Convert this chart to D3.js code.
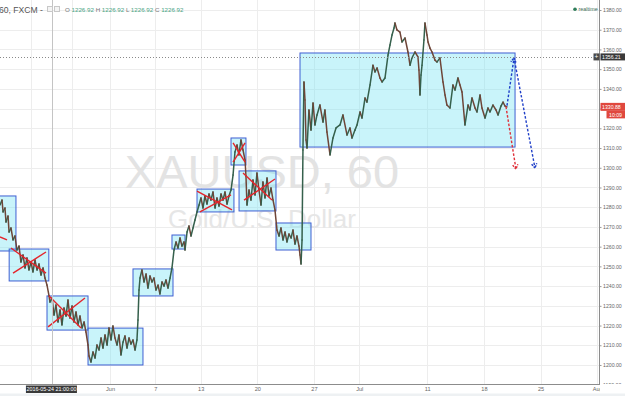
<!DOCTYPE html>
<html>
<head>
<meta charset="utf-8">
<script src="https://cdn.jsdelivr.net/npm/d3@7"></script>
<style>
  body { margin: 0; background: #fff; overflow: hidden; }
  svg { display: block; font-family: "Liberation Sans", Arial, sans-serif; }
</style>
</head>
<body>
<div id="root"></div>
<script>
const width = 625;
const height = 396;
const plotRight = 599;
const plotBottom = 384;

// x is a trading-day index, Jun 1 2016 = 0 (weekends skipped)
// the two May ticks sit under the crosshair label, so they carry no text
const tickDays = [-7, -3.35, 0, 4, 8, 13, 18, 22, 28, 33, 38, 43];
const tickLabels = ["", "", "Jun", "7", "13", "20", "27", "Jul", "11", "18", "25", "Aug"];
const priceTicks = [1190, 1200, 1210, 1220, 1230, 1240, 1250, 1260, 1270, 1280,
  1290, 1300, 1310, 1320, 1330, 1340, 1350, 1360, 1370, 1380];

// XAUUSD 60 min path
const priceDays = [
  -9.71, -9.53, -9.44, -9.27, -9.18, -9.00, -8.91, -8.74, -8.56, -8.39, -8.21,
  -8.03, -7.86, -7.68, -7.50, -7.33, -7.15, -6.97, -6.80, -6.62, -6.44, -6.27, -6.09, -5.91, -5.74, -5.56, -5.38,
  -5.30, -5.12, -4.94, -4.77, -4.59, -4.41, -4.24, -4.06, -3.88, -3.71, -3.53, -3.35, -3.18, -3.00, -2.82, -2.65, -2.47, -2.29, -2.12, -1.94, -1.85, -1.68,
  -1.50, -1.32, -1.15, -0.97, -0.79, -0.62, -0.44, -0.26, -0.09, 0.09, 0.26, 0.44, 0.62, 0.79, 0.97, 1.15, 1.32, 1.50, 1.68, 1.85, 2.03, 2.21, 2.38, 2.47, 2.56, 2.65,
  2.82, 3.00, 3.18, 3.35, 3.53, 3.71, 3.88, 4.06, 4.24, 4.41, 4.59, 4.77, 4.94, 5.12, 5.30, 5.47,
  5.65, 5.83, 6.00, 6.18, 6.35, 6.53, 6.62, 6.80, 6.97, 7.15, 7.33, 7.50, 7.68,
  7.86, 8.03, 8.21, 8.38, 8.56, 8.74, 8.91, 9.09, 9.27, 9.44, 9.62, 9.80, 9.97, 10.15, 10.33, 10.50, 10.68, 10.86, 11.03,
  11.21, 11.38, 11.56, 11.74, 11.92,
  12.00, 12.09, 12.27, 12.44, 12.62, 12.80, 12.97, 13.15, 13.33, 13.50, 13.68, 13.86, 14.03, 14.21, 14.39, 14.56,
  14.74, 14.92, 15.09, 15.27, 15.45, 15.62, 15.80, 15.98, 16.15, 16.33, 16.50, 16.68, 16.77, 16.86, 16.95, 17.03, 17.12,
  17.21, 17.30, 17.39, 17.56, 17.74, 17.92, 18.09, 18.27, 18.53, 18.80, 18.97, 19.15, 19.42, 19.68, 19.95, 20.30, 20.56, 20.92,
  21.18, 21.36, 21.62, 21.80, 22.07, 22.24, 22.51, 22.68, 22.95, 23.21, 23.39, 23.57, 23.83, 24.01, 24.27, 24.54, 24.71, 24.89,
  25.07, 25.15, 25.33, 25.59, 25.77, 26.04, 26.30, 26.48, 26.65, 26.92, 27.18, 27.27, 27.36, 27.45, 27.54, 27.71, 27.80, 27.98,
  28.07, 28.24, 28.42, 28.68, 28.86, 29.12, 29.39, 29.57, 29.74, 30.01, 30.27, 30.45, 30.71, 30.89, 31.07, 31.33, 31.60, 31.77,
  31.95, 32.22, 32.39, 32.66, 32.83, 33.10, 33.36, 33.54, 33.80, 34.07, 34.25, 34.51, 34.69, 34.86, 35.04
];
const priceValues = [
  1281.1, 1283.6, 1277.6, 1279.6, 1272.5, 1275.5, 1267.4, 1269.5, 1263.4, 1265.4, 1258.3,
  1260.3, 1252.2, 1255.8, 1249.2, 1254.2, 1248.2, 1252.2, 1247.2, 1253.2, 1248.2, 1251.2, 1245.6, 1249.2, 1244.1, 1240.5, 1235.0,
  1231.9, 1234.0, 1225.3, 1230.4, 1221.8, 1227.9, 1220.3, 1228.9, 1224.8, 1232.9, 1223.8, 1229.9, 1221.8, 1226.9, 1220.3, 1224.8, 1218.8, 1221.8, 1216.7, 1210.1, 1204.6, 1201.5,
  1206.6, 1203.5, 1210.1, 1207.6, 1213.7, 1208.6, 1215.2, 1210.1, 1218.8, 1212.7, 1219.8, 1213.7, 1210.1, 1215.2, 1205.1, 1211.6, 1214.7, 1208.6, 1213.7, 1210.6, 1212.7, 1207.6, 1212.7, 1222.8, 1238.0, 1244.1,
  1248.2, 1242.1, 1246.1, 1239.0, 1245.1, 1242.1, 1244.1, 1238.0, 1240.5, 1236.0, 1242.1, 1240.0, 1243.1, 1239.0, 1244.1, 1249.2,
  1258.3, 1262.4, 1259.3, 1264.4, 1260.3, 1262.4, 1258.3, 1267.4, 1270.5, 1265.4, 1269.5, 1273.5, 1277.6,
  1281.1, 1284.7, 1279.6, 1285.7, 1281.6, 1286.7, 1283.6, 1287.7, 1279.6, 1284.7, 1280.6, 1286.7, 1283.6, 1287.7, 1281.6, 1285.7, 1288.7, 1296.3, 1308.0,
  1311.5, 1306.5, 1314.1, 1309.0, 1303.9,
  1295.8, 1281.1, 1288.7, 1283.6, 1293.8, 1286.2, 1297.3, 1288.7, 1281.1, 1292.8, 1284.7, 1294.8, 1285.7, 1289.7, 1283.6, 1278.6,
  1268.4, 1265.4, 1269.5, 1263.4, 1267.4, 1262.4, 1266.4, 1264.4, 1268.4, 1261.3, 1265.4, 1260.3, 1255.8, 1251.2, 1263.4, 1309.0, 1343.5,
  1334.4, 1314.1, 1310.0, 1329.3, 1319.1, 1332.8, 1321.7, 1326.8, 1331.8, 1323.2, 1329.3, 1318.1, 1306.5, 1315.1, 1320.2, 1321.7, 1326.8, 1316.6,
  1320.2, 1315.1, 1319.1, 1321.7, 1328.3, 1325.2, 1335.4, 1333.3, 1342.0, 1352.0, 1348.6, 1350.6, 1345.5, 1343.5, 1345.5, 1357.2, 1362.2, 1367.3,
  1370.9, 1373.4, 1369.9, 1368.8, 1363.8, 1365.8, 1358.7, 1352.0, 1355.7, 1358.7, 1356.2, 1349.6, 1336.9, 1347.0, 1352.0, 1364.8, 1373.4, 1367.3,
  1363.8, 1360.7, 1358.7, 1354.6, 1353.6, 1355.7, 1343.5, 1336.9, 1331.8, 1330.3, 1342.0, 1339.4, 1345.5, 1342.0, 1338.4, 1321.7, 1331.8, 1329.3,
  1335.4, 1330.3, 1328.3, 1336.9, 1330.3, 1325.2, 1330.3, 1328.3, 1331.8, 1329.3, 1326.8, 1331.3, 1333.3, 1331.3, 1330.9
];

// rectangles: [startDay, endDay, topPrice, bottomPrice]
const boxes = [
  [-10.5, -8.3, 1285.7, 1257.8],
  [-8.9, -5.4, 1258.8, 1242.6],
  [-5.56, -1.94, 1235.0, 1217.7],
  [-1.94, 2.91, 1218.7, 1200.0],
  [2.03, 5.56, 1248.7, 1235.0],
  [5.47, 6.62, 1265.9, 1258.8],
  [7.68, 10.94, 1289.2, 1277.6],
  [10.68, 12.0, 1315.1, 1301.4],
  [11.39, 14.65, 1298.4, 1278.1],
  [14.65, 17.74, 1272.0, 1258.3],
  [16.77, 35.75, 1358.2, 1310.5]
];

// red crosses: [day1, price1, day2, price2]
const crossLines = [
  [-9.71, 1264.9, -9.09, 1263.4],
  [-8.74, 1259.3, -5.65, 1246.6],
  [-8.56, 1246.6, -5.65, 1257.3],
  [-5.38, 1235.0, -2.56, 1218.8],
  [-5.47, 1219.3, -2.21, 1234.0],
  [7.68, 1288.2, 10.77, 1278.6],
  [7.94, 1277.6, 10.68, 1286.2],
  [10.86, 1312.6, 11.92, 1302.9],
  [10.86, 1302.9, 11.92, 1312.6],
  [11.74, 1297.3, 14.30, 1283.6],
  [11.83, 1283.6, 14.56, 1294.3]
];

const blueArrow = [[35.04, 1331.5], [35.66, 1355.7], [37.51, 1299.9]];
const redArrow = [[34.95, 1331.0], [35.83, 1299.4]];

const lastPrice = 1330.88;
const markPrice = 1356.21;
const crossDay = -5.125;

var svg = d3.select("#root").append("svg")
  .attr("width", width)
  .attr("height", height);

var x = d3.scaleLinear().domain([-9.709, 43.16]).range([0, plotRight]);
var y = d3.scaleLinear().domain([1190, 1380]).range([384.7, 10]);

svg.append("defs").append("clipPath").attr("id", "plot")
  .append("rect").attr("width", plotRight).attr("height", plotBottom);

svg.append("rect").attr("width", width).attr("height", height).attr("fill", "#fff");

// grid
var grid = svg.append("g").attr("stroke", "#ededed").attr("stroke-width", 1);
grid.selectAll(".h").data(priceTicks).enter().append("line")
  .attr("x1", 0).attr("x2", plotRight)
  .attr("y1", d => Math.round(y(d)) + 0.5).attr("y2", d => Math.round(y(d)) + 0.5);
grid.selectAll(".v").data(tickDays).enter().append("line")
  .attr("y1", 0).attr("y2", plotBottom)
  .attr("x1", d => Math.round(x(d)) + 0.5).attr("x2", d => Math.round(x(d)) + 0.5);

// watermark
svg.append("text").attr("x", 262).attr("y", 188).attr("text-anchor", "middle")
  .attr("font-size", 47).attr("fill", "#e3e3e3").text("XAUUSD, 60");
svg.append("text").attr("x", 262).attr("y", 228).attr("text-anchor", "middle")
  .attr("font-size", 26).attr("fill", "#e6e6e6").text("Gold/U.S. Dollar");

var plot = svg.append("g").attr("clip-path", "url(#plot)");

plot.selectAll(".box").data(boxes).enter().append("rect")
  .attr("x", d => x(d[0]))
  .attr("y", d => y(d[2]))
  .attr("width", d => x(d[1]) - x(d[0]))
  .attr("height", d => y(d[3]) - y(d[2]))
  .attr("fill", "rgba(120,228,242,0.4)")
  .attr("stroke", "#3f5fd2")
  .attr("stroke-width", 1);

// price path, coloured by direction
var pts = priceDays.map((d, i) => [d, priceValues[i]]);
plot.selectAll(".seg").data(d3.pairs(pts)).enter().append("line")
  .attr("x1", d => x(d[0][0])).attr("y1", d => y(d[0][1]))
  .attr("x2", d => x(d[1][0])).attr("y2", d => y(d[1][1]))
  .attr("stroke", d => d[1][1] >= d[0][1] ? "#35604c" : "#6e4538")
  .attr("stroke-width", 1.5)
  .attr("stroke-linecap", "round");

plot.selectAll(".cross").data(crossLines).enter().append("line")
  .attr("x1", d => x(d[0])).attr("y1", d => y(d[1]))
  .attr("x2", d => x(d[2])).attr("y2", d => y(d[3]))
  .attr("stroke", "#e5242b").attr("stroke-width", 1.4);

var line = d3.line().x(d => x(d[0])).y(d => y(d[1]));

function arrowHead(p0, p1, color) {
  var x0 = x(p0[0]), y0 = y(p0[1]), x1 = x(p1[0]), y1 = y(p1[1]);
  var a = Math.atan2(y1 - y0, x1 - x0), L = 5, s = 0.55;
  plot.append("path")
    .attr("d", "M" + (x1 - L * Math.cos(a - s)) + "," + (y1 - L * Math.sin(a - s)) +
      "L" + x1 + "," + y1 +
      "L" + (x1 - L * Math.cos(a + s)) + "," + (y1 - L * Math.sin(a + s)))
    .attr("fill", "none").attr("stroke", color).attr("stroke-width", 1.4)
    .attr("stroke-dasharray", "2,1");
}

plot.append("path").attr("d", line(blueArrow))
  .attr("fill", "none").attr("stroke", "#1f3fc8").attr("stroke-width", 1.4)
  .attr("stroke-dasharray", "2.5,1.8");
arrowHead(blueArrow[0], blueArrow[1], "#1f3fc8");
arrowHead(blueArrow[1], blueArrow[2], "#1f3fc8");

plot.append("path").attr("d", line(redArrow))
  .attr("fill", "none").attr("stroke", "#e0303a").attr("stroke-width", 1.4)
  .attr("stroke-dasharray", "2.5,1.8");
arrowHead(redArrow[0], redArrow[1], "#e0303a");

// dotted level line
plot.append("line")
  .attr("x1", 0).attr("x2", plotRight)
  .attr("y1", Math.round(y(markPrice)) + 0.5).attr("y2", Math.round(y(markPrice)) + 0.5)
  .attr("stroke", "#8a8a8a").attr("stroke-dasharray", "1,2");

// crosshair
plot.append("line")
  .attr("x1", Math.round(x(crossDay)) + 0.5).attr("x2", Math.round(x(crossDay)) + 0.5)
  .attr("y1", 0).attr("y2", plotBottom)
  .attr("stroke", "#c4c4c4");

// header
svg.append("text").attr("x", -1).attr("y", 12.5)
  .attr("font-size", 8.6).attr("fill", "#555").text("60, FXCM -");
[47, 54].forEach(function(px) {
  svg.append("rect").attr("x", px + 0.5).attr("y", 6.5).attr("width", 5).attr("height", 5)
    .attr("fill", "#f4f4f4").attr("stroke", "#c8c8c8");
});
var ohlc = svg.append("text").attr("x", 65).attr("y", 11.5).attr("font-size", 6.2);
["O", "H", "L", "C"].forEach(function(k) {
  ohlc.append("tspan").attr("fill", "#777").text(k + " ");
  ohlc.append("tspan").attr("fill", "#4aa484").text("1226.92 ");
});
svg.append("circle").attr("cx", 575).attr("cy", 9.3).attr("r", 1.8).attr("fill", "#2e7d5a");
svg.append("text").attr("x", 578.5).attr("y", 11.2).attr("font-size", 5.4)
  .attr("fill", "#3d6e58").text("realtime");

// price axis panel
svg.append("rect").attr("x", plotRight + 0.5).attr("y", 0)
  .attr("width", width - plotRight).attr("height", plotBottom).attr("fill", "#fff");
var yl = y(lastPrice);
var yAxis = svg.append("g")
  .attr("transform", "translate(" + (plotRight + 0.5) + ",0)")
  .call(d3.axisRight(y).tickValues(priceTicks).tickFormat(d3.format(".2f")).tickSize(2).tickPadding(1.5));
yAxis.select(".domain").remove();
yAxis.selectAll("line").attr("stroke", "#999");
yAxis.selectAll("text").attr("font-size", 5.2).attr("fill", "#666")
  .attr("font-family", "'Liberation Sans', Arial, sans-serif");
// labels hidden behind the last-price tag
yAxis.selectAll(".tick").filter(d => Math.abs(y(d) - yl) < 9).select("text").remove();

svg.append("line")
  .attr("x1", plotRight + 0.5).attr("x2", plotRight + 0.5).attr("y1", 0).attr("y2", plotBottom)
  .attr("stroke", "#8c8c8c");

// mark price label
var ym = y(markPrice);
svg.append("rect").attr("x", 593.5).attr("y", ym - 3.5).attr("width", 6).attr("height", 7).attr("fill", "#4a4a4a");
svg.append("text").attr("x", 596.5).attr("y", ym + 2.2).attr("text-anchor", "middle")
  .attr("font-size", 6.5).attr("fill", "#fff").text("+");
svg.append("rect").attr("x", 600.5).attr("y", ym - 3.5).attr("width", 25).attr("height", 7).attr("fill", "#3a3a3a");
svg.append("text").attr("x", 602).attr("y", ym + 1.9).attr("font-size", 5.2).attr("fill", "#fff")
  .text(d3.format(".2f")(markPrice));

// last price label + countdown
svg.append("rect").attr("x", 600.5).attr("y", yl - 4).attr("width", 25).attr("height", 8).attr("fill", "#e0483e");
svg.append("text").attr("x", 602).attr("y", yl + 1.9).attr("font-size", 5.2).attr("fill", "#fff")
  .text(d3.format(".2f")(lastPrice));
svg.append("rect").attr("x", 606.5).attr("y", yl + 4).attr("width", 19).attr("height", 7.5).attr("fill", "#e0483e");
svg.append("text").attr("x", 609).attr("y", yl + 9.7).attr("font-size", 5.2).attr("fill", "#fff").text("10:09");

// time axis
svg.append("rect").attr("x", 0).attr("y", plotBottom).attr("width", width).attr("height", height - plotBottom).attr("fill", "#fff");
var xAxis = svg.append("g")
  .attr("transform", "translate(0," + plotBottom + ")")
  .call(d3.axisBottom(x).tickValues(tickDays).tickFormat((d, i) => tickLabels[i]).tickSize(0).tickPadding(3.5));
xAxis.select(".domain").remove();
xAxis.selectAll("text").attr("font-size", 5.6).attr("fill", "#666")
  .attr("font-family", "'Liberation Sans', Arial, sans-serif");

svg.append("rect").attr("x", plotRight + 1).attr("y", plotBottom + 1).attr("width", width).attr("height", 8).attr("fill", "#fff");
svg.append("line").attr("x1", 0).attr("x2", plotRight + 1)
  .attr("y1", plotBottom + 0.5).attr("y2", plotBottom + 0.5).attr("stroke", "#8c8c8c");
svg.append("rect").attr("x", 0).attr("y", 393.5).attr("width", width).attr("height", 3).attr("fill", "#eef1f3");

var xc = x(crossDay);
svg.append("rect").attr("x", xc - 26).attr("y", 385.5).attr("width", 51).attr("height", 7.5).attr("fill", "#3a3a3a");
svg.append("text").attr("x", xc - 0.5).attr("y", 391.3).attr("text-anchor", "middle")
  .attr("font-size", 5.4).attr("fill", "#fff").text("2016-05-24 21:00:00");
</script>
</body>
</html>
